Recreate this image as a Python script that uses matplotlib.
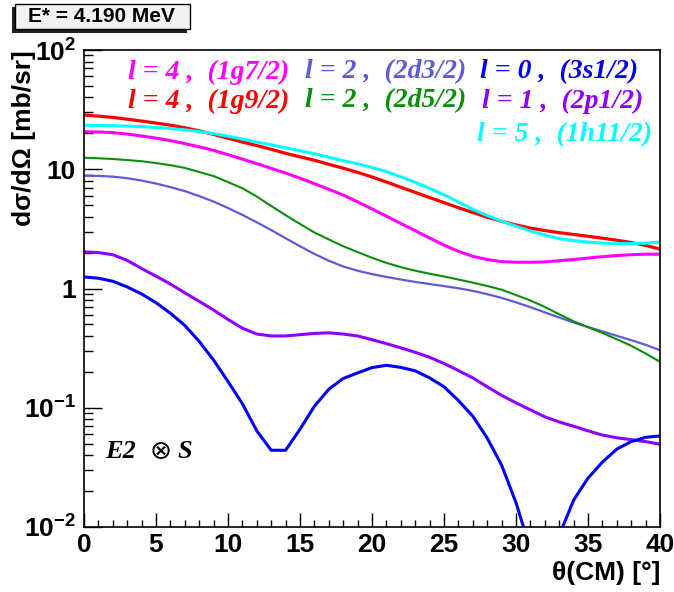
import matplotlib
matplotlib.use("Agg")
import matplotlib.pyplot as plt
from matplotlib.patches import Rectangle
from matplotlib.ticker import FixedLocator, LogLocator, NullFormatter

plt.rcParams.update(
    {
        "font.family": "Liberation Sans",
        "mathtext.fontset": "custom",
        "mathtext.rm": "Liberation Sans:bold",
        "mathtext.bf": "Liberation Sans:bold",
        "mathtext.it": "Liberation Sans:bold",
    }
)

W, H = 674, 592

# angles (degrees, CM)
theta = [0, 1, 2, 3, 4, 5, 6, 7, 8, 9, 10, 11, 12, 13, 14, 15, 16, 17, 18, 19, 20,
         21, 22, 23, 24, 25, 26, 27, 28, 29, 30, 31, 32, 33, 34, 35, 36, 37, 38, 39, 40]

# cross sections [mb/sr]
xs_1g92 = [28.5, 27.9, 27.2, 26.3, 25.35, 24.4, 23.4, 22.3, 21.0, 19.6, 18.2,
           16.9, 15.8, 14.7, 13.6, 12.7, 11.9, 11.0, 10.2, 9.42, 8.61,
           7.82, 7.06, 6.40, 5.79, 5.25, 4.76, 4.34, 3.96, 3.66, 3.41,
           3.21, 3.06, 2.94, 2.84, 2.74, 2.64, 2.54, 2.43, 2.30, 2.14]
xs_1h112 = [23.4, 23.3, 23.2, 23.0, 22.75, 22.4, 22.0, 21.4, 20.7, 19.9, 18.9,
            17.9, 16.9, 16.0, 15.1, 14.3, 13.5, 12.6, 11.8, 11.1, 10.35,
            9.55, 8.65, 7.76, 6.92, 6.10, 5.31, 4.62, 4.09, 3.67, 3.33,
            3.03, 2.81, 2.62, 2.52, 2.45, 2.40, 2.38, 2.38, 2.40, 2.45]
xs_1g72 = [20.65, 20.56, 20.28, 19.72, 19.01, 18.24, 17.38, 16.41, 15.42, 14.39, 13.24,
           12.16, 11.14, 10.18, 9.29, 8.41, 7.57, 6.79, 6.07, 5.33, 4.65,
           4.04, 3.51, 3.05, 2.65, 2.31, 2.05, 1.86, 1.75, 1.68, 1.66,
           1.66, 1.67, 1.71, 1.75, 1.80, 1.85, 1.89, 1.92, 1.94, 1.94]
xs_2d52 = [12.5, 12.36, 12.19, 11.94, 11.67, 11.27, 10.81, 10.26, 9.48, 8.77, 7.80,
           6.93, 5.90, 4.92, 4.12, 3.48, 2.95, 2.58, 2.26, 2.02, 1.81,
           1.64, 1.51, 1.41, 1.33, 1.26, 1.19, 1.12, 1.05, 0.977, 0.881,
           0.794, 0.70, 0.608, 0.531, 0.474, 0.424, 0.375, 0.331, 0.285, 0.243]
xs_2d32 = [8.83, 8.79, 8.67, 8.41, 8.04, 7.59, 7.08, 6.56, 5.96, 5.36, 4.73,
           4.14, 3.59, 3.09, 2.64, 2.26, 1.95, 1.71, 1.53, 1.41, 1.32,
           1.25, 1.19, 1.135, 1.09, 1.047, 1.005, 0.955, 0.897, 0.834, 0.766,
           0.697, 0.631, 0.571, 0.519, 0.475, 0.437, 0.401, 0.369, 0.337, 0.304]
xs_2p12 = [2.03, 2.0, 1.92, 1.72, 1.47, 1.27, 1.09, 0.92, 0.78, 0.66, 0.55,
           0.465, 0.415, 0.40, 0.40, 0.41, 0.42, 0.425, 0.415, 0.40, 0.372,
           0.345, 0.318, 0.292, 0.265, 0.235, 0.205, 0.178, 0.15, 0.127, 0.11,
           0.096, 0.084, 0.076, 0.07, 0.064, 0.059, 0.056, 0.054, 0.052, 0.0495]
xs_3s12 = [1.25, 1.22, 1.15, 1.03, 0.90, 0.76, 0.62, 0.49, 0.36, 0.251, 0.166,
           0.108, 0.064, 0.044, 0.044, 0.066, 0.103, 0.143, 0.176, 0.196, 0.217,
           0.227, 0.218, 0.204, 0.178, 0.150, 0.115, 0.085, 0.0557, 0.033, 0.016,
           0.0065, 0.0025, 0.0085, 0.0168, 0.0257, 0.035, 0.045, 0.052, 0.0565, 0.058]

C_MAG = "#ff00ff"
C_SLATE = "#5c5cd8"
C_BLUE = "#0000ff"
C_RED = "#ff0000"
C_GREEN = "#0a8f0a"
C_VIOLET = "#9000ff"
C_CYAN = "#00ffff"

fig = plt.figure(figsize=(W / 100, H / 100), dpi=100)
ax = fig.add_axes([84 / W, 1 - 527 / H, 576 / W, 477 / H])

ax.plot(theta, xs_2d32, color=C_SLATE, lw=1.6)
ax.plot(theta, xs_2d52, color=C_GREEN, lw=1.5)
ax.plot(theta, xs_2p12, color=C_VIOLET, lw=2.2)
ax.plot(theta, xs_3s12, color=C_BLUE, lw=2.2)
ax.plot(theta, xs_1g72, color=C_MAG, lw=2.2)
ax.plot(theta, xs_1g92, color=C_RED, lw=2.3)
ax.plot(theta, xs_1h112, color=C_CYAN, lw=2.2)

ax.set_yscale("log")
ax.set_xlim(0, 40)
ax.set_ylim(1e-2, 1e2)

ax.set_xticks([0, 5, 10, 15, 20, 25, 30, 35, 40])
ax.xaxis.set_minor_locator(FixedLocator(theta))
ax.set_yticks([1e-2, 1e-1, 1, 10, 100])
ax.set_yticklabels([r"$10^{-2}$", r"$10^{-1}$", "1", "10", r"$10^{2}$"])
ax.yaxis.set_minor_locator(LogLocator(base=10, subs=range(2, 10)))
ax.yaxis.set_minor_formatter(NullFormatter())

ax.tick_params(axis="x", which="major", direction="in", length=10, width=1,
               labelsize=19, pad=4, top=False)
ax.tick_params(axis="x", which="minor", direction="in", length=5, width=1, top=False)
ax.tick_params(axis="y", which="major", direction="in", length=13, width=1,
               labelsize=19, pad=6, right=False)
ax.tick_params(axis="y", which="minor", direction="in", length=6.5, width=1, right=False)
for lab in ax.get_xticklabels() + ax.get_yticklabels():
    lab.set_fontweight("bold")
for sp in ax.spines.values():
    sp.set_linewidth(1.2)

# axis titles
fig.text(24 / W, 1 - 50 / H, "dσ/dΩ [mb/sr]", rotation=90, ha="center", va="top",
         fontsize=19, fontweight="bold")
fig.text(660 / W, 1 - 573 / H, "θ(CM) [°]", ha="right", va="center",
         fontsize=19, fontweight="bold")

# energy box with shadow
fig.patches.append(Rectangle((12 / W, 1 - 33 / H), 175 / W, 26 / H,
                             transform=fig.transFigure, facecolor="#202020",
                             edgecolor="none", zorder=1))
fig.patches.append(Rectangle((15 / W, 1 - 29 / H), 175 / W, 25 / H,
                             transform=fig.transFigure, facecolor="#f2f2f2",
                             edgecolor="black", linewidth=1, zorder=2))
fig.text(101 / W, 1 - 17 / H, "E* = 4.190 MeV", ha="center", va="center",
         fontsize=15, fontweight="bold", zorder=3)

# legend texts
legend_items = [
    (128, 72, "l = 4 ,  (1g7/2)", C_MAG),
    (305, 72, "l = 2 ,  (2d3/2)", C_SLATE),
    (480, 72, "l = 0 ,  (3s1/2)", C_BLUE),
    (128, 101, "l = 4 ,  (1g9/2)", C_RED),
    (305, 101, "l = 2 ,  (2d5/2)", C_GREEN),
    (482, 101, "l = 1 ,  (2p1/2)", C_VIOLET),
    (477, 135, "l = 5 ,  (1h11/2)", C_CYAN),
]
for x, y, txt, col in legend_items:
    fig.text(x / W, 1 - y / H, txt, ha="left", va="center", fontsize=20,
             fontfamily="Liberation Serif", fontweight="bold", fontstyle="italic",
             color=col)

fig.text(105 / W, 1 - 452 / H, "E2", ha="left", va="center", fontsize=19,
         fontfamily="Liberation Serif", fontweight="bold", fontstyle="italic")
fig.text(161 / W, 1 - 452 / H, "⊗", ha="center", va="center", fontsize=19,
         fontfamily="DejaVu Sans")
fig.text(178 / W, 1 - 452 / H, "S", ha="left", va="center", fontsize=19,
         fontfamily="Liberation Serif", fontweight="bold", fontstyle="italic")

fig.savefig("out.png", dpi=100, facecolor="white")
plt.close(fig)
